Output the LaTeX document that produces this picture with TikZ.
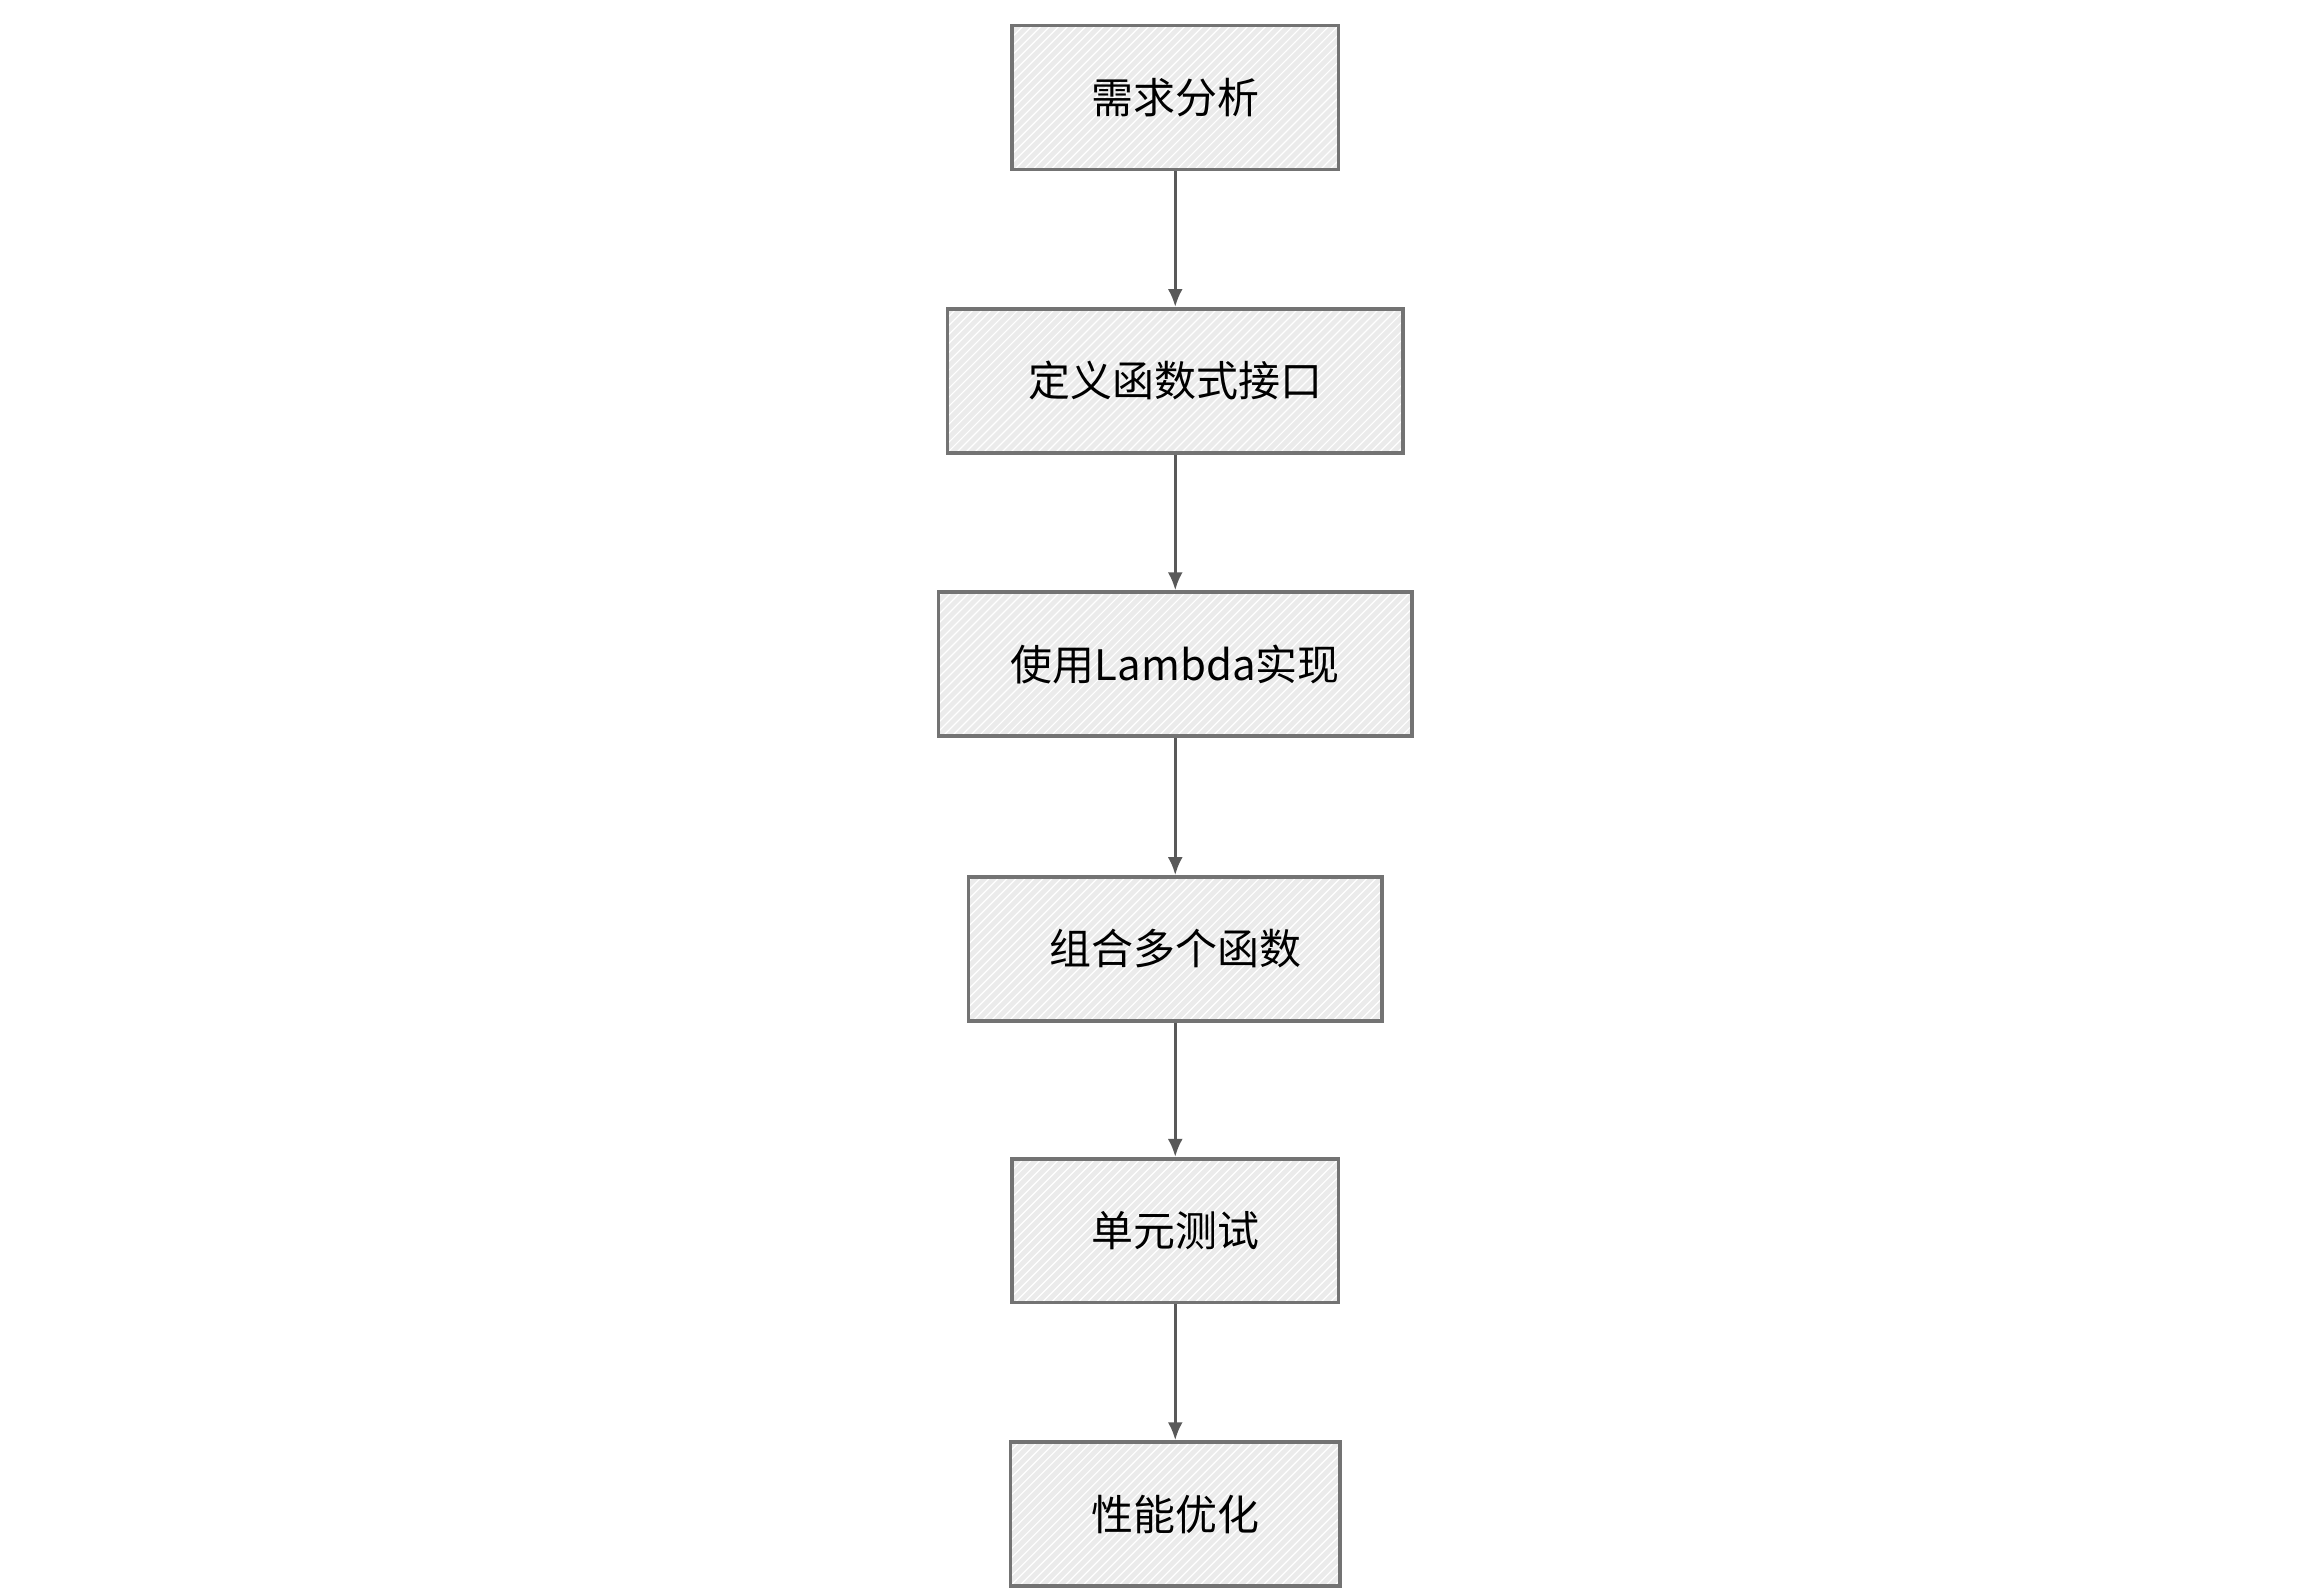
\documentclass[tikz,border=0pt]{standalone}
\usepackage{fontspec}
\setmainfont{Noto Sans CJK SC}
\usetikzlibrary{arrows.meta,patterns}
\tikzset{
  stepbox/.style={draw=black!55, line width=1.2pt, preaction={fill=black!8},
    pattern=north east lines, pattern color=white,
    font=\fontsize{14}{16}\selectfont, minimum height=48pt, inner sep=0pt},
  flow/.style={draw=black!65, line width=1pt, -{Latex[length=6pt,width=5pt]}}
}
\begin{document}
\begin{tikzpicture}[x=0.5pt,y=-0.5pt]
\useasboundingbox (0,0) rectangle (1545,1060);
\node[stepbox, minimum width=109pt] (req) at (784,65) {需求分析};
\node[stepbox, minimum width=152pt] (iface) at (784,254) {定义函数式接口};
\node[stepbox, minimum width=158pt] (lam) at (784,443) {使用Lambda实现};
\node[stepbox, minimum width=138pt] (comb) at (784,633) {组合多个函数};
\node[stepbox, minimum width=109pt] (test) at (784,821) {单元测试};
\node[stepbox, minimum width=110pt] (perf) at (784,1010) {性能优化};
\draw[flow] (req) -- (iface);
\draw[flow] (iface) -- (lam);
\draw[flow] (lam) -- (comb);
\draw[flow] (comb) -- (test);
\draw[flow] (test) -- (perf);
\end{tikzpicture}
\end{document}
